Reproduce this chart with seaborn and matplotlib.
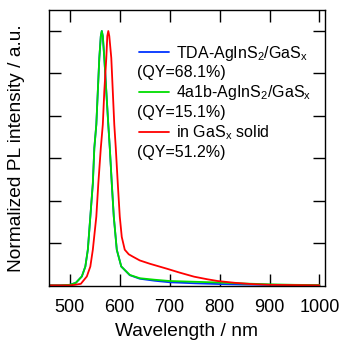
import numpy as np
import matplotlib
matplotlib.use("Agg")
import matplotlib.pyplot as plt
import seaborn as sns

# длины волн и нормированная интенсивность ФЛ
wl_tda = [460, 480, 500, 512, 524, 531, 536, 541, 546, 549, 553, 556, 559, 562, 564, 566,
          569, 573, 577, 580, 584, 588, 594, 603, 620, 640, 670, 700, 750, 800, 850, 900, 950, 1000]
pl_tda = [0.0, 0.0, 0.002, 0.01, 0.035, 0.074, 0.14, 0.27, 0.40, 0.54, 0.632, 0.763, 0.894, 0.98, 1.0, 0.98,
          0.894, 0.763, 0.632, 0.54, 0.40, 0.27, 0.14, 0.074, 0.040, 0.026, 0.018, 0.012, 0.008, 0.005, 0.003, 0.002, 0.001, 0.0]

wl_4a1b = wl_tda
pl_4a1b = [0.0, 0.0, 0.002, 0.01, 0.035, 0.074, 0.14, 0.27, 0.40, 0.54, 0.632, 0.763, 0.894, 0.98, 1.0, 0.98,
           0.894, 0.763, 0.632, 0.54, 0.40, 0.27, 0.14, 0.074, 0.041, 0.028, 0.022, 0.017, 0.014, 0.011, 0.007, 0.004, 0.002, 0.001]

wl_solid = [460, 500, 510, 522, 534, 541, 546, 553, 557, 562, 566, 569, 573, 575, 577, 579,
            583, 586, 589, 592, 596, 600, 604, 610, 618, 626, 640, 660, 695, 720, 749, 775, 796, 830, 864, 900, 950, 1000]
pl_solid = [0.0, 0.0, 0.002, 0.006, 0.035, 0.074, 0.14, 0.27, 0.40, 0.54, 0.632, 0.763, 0.894, 0.98, 1.0, 0.98,
            0.894, 0.763, 0.632, 0.54, 0.40, 0.27, 0.19, 0.14, 0.122, 0.113, 0.098, 0.085, 0.065, 0.05, 0.034, 0.024, 0.017, 0.01, 0.005, 0.002, 0.001, 0.0]

labels = ['TDA-AgInS$_2$/GaS$_x$', '4a1b-AgInS$_2$/GaS$_x$', 'in GaS$_x$ solid']
qy = ['(QY=68.1%)', '(QY=15.1%)', '(QY=51.2%)']
colors = ['#0033ff', '#00dd00', '#ff0000']
xticks = [500, 600, 700, 800, 900, 1000]

sns.set_style("ticks")
plt.rcParams['font.family'] = ['Liberation Sans', 'DejaVu Sans']
plt.rcParams['mathtext.fontset'] = 'custom'
plt.rcParams['mathtext.rm'] = 'Liberation Sans'
plt.rcParams['mathtext.it'] = 'Liberation Sans'
plt.rcParams['text.color'] = 'black'
plt.rcParams['axes.labelcolor'] = 'black'

fig = plt.figure(figsize=(3.42, 3.41), dpi=100)
ax = fig.add_axes([0.143, 0.161, 0.807, 0.81])

series = [(wl_tda, pl_tda), (wl_4a1b, pl_4a1b), (wl_solid, pl_solid)]
for (x, y), lab, c in zip(series, labels, colors):
    sns.lineplot(x=x, y=y, ax=ax, color=c, linewidth=1.3, label=lab)

ax.set_xlim(458, 1011)
ax.set_ylim(-0.003, 1.083)
ax.set_xticks(xticks)
ax.set_yticks(np.arange(1, 7) / 6)
ax.set_yticklabels([])
ax.tick_params(direction='in', length=8.5, width=1, top=True, right=True,
               labelsize=13, colors='black', pad=9.5)
for s in ax.spines.values():
    s.set_linewidth(1)
    s.set_color('black')

# подпись оси X чуть выше, чтобы не обрезалась
ax.set_xlabel('Wavelength / nm', fontsize=13.8, labelpad=5)
ax.set_ylabel('Normalized PL intensity / a.u.', fontsize=13.8, labelpad=7.5)

leg = ax.legend(loc='upper left', bbox_to_anchor=(0.325, 0.878), frameon=False,
                fontsize=11.5, handlelength=1.9, handletextpad=0.45,
                labelspacing=1.3, borderaxespad=0, borderpad=0)

for i, t in enumerate(qy):
    ax.text(0.320, 0.774 - i * 0.146, t, transform=ax.transAxes, fontsize=11.5,
            va='center', ha='left')

fig.savefig('out.png', dpi=100)
